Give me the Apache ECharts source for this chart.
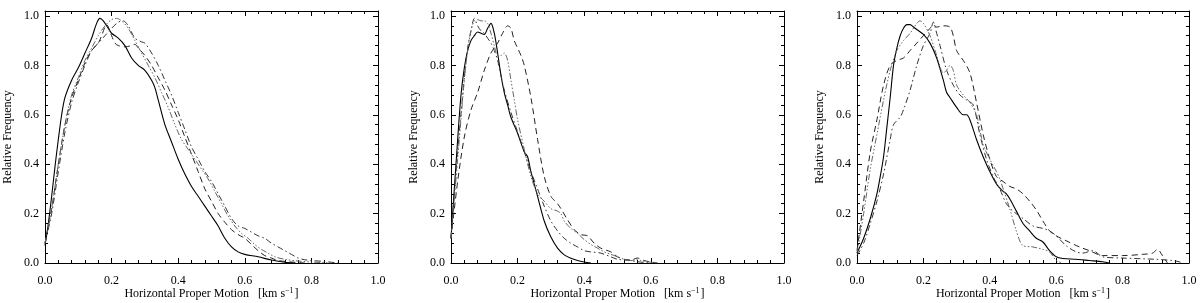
<!DOCTYPE html>
<html><head><meta charset="utf-8">
<script src="https://cdn.jsdelivr.net/npm/echarts@6/dist/echarts.min.js"></script>
<style>html,body{margin:0;padding:0;background:#fff}#c{width:1200px;height:303px}</style>
</head><body><div id="c"></div>
<script>
// ---- data: [horizontal proper motion (km/s), relative frequency] ----
const xTickValues = [0.0, 0.2, 0.4, 0.6, 0.8, 1.0];
const yTickValues = [0.0, 0.2, 0.4, 0.6, 0.8, 1.0];
const xTitle = 'Horizontal Proper Motion';
const yTitle = 'Relative Frequency';

const p1Solid = [[0,0.07],[0.01,0.16],[0.02,0.27],[0.03,0.39],[0.04,0.50],[0.05,0.60],[0.06,0.67],[0.08,0.74],[0.10,0.79],[0.12,0.85],[0.14,0.91],[0.155,0.97],[0.165,0.99],[0.175,0.98],[0.19,0.95],[0.20,0.93],[0.22,0.91],[0.24,0.88],[0.26,0.83],[0.28,0.80],[0.30,0.78],[0.32,0.74],[0.33,0.71],[0.34,0.66],[0.36,0.56],[0.38,0.49],[0.40,0.42],[0.42,0.36],[0.44,0.31],[0.46,0.27],[0.48,0.23],[0.50,0.19],[0.52,0.15],[0.54,0.10],[0.56,0.065],[0.58,0.045],[0.60,0.035],[0.64,0.025],[0.68,0.012],[0.72,0.003],[0.75,0]];
const p1Dash = [[0,0.08],[0.02,0.22],[0.04,0.40],[0.06,0.56],[0.08,0.67],[0.10,0.74],[0.12,0.81],[0.14,0.86],[0.16,0.89],[0.17,0.92],[0.185,0.965],[0.20,0.92],[0.21,0.89],[0.22,0.88],[0.24,0.875],[0.26,0.88],[0.27,0.885],[0.28,0.87],[0.30,0.84],[0.32,0.80],[0.34,0.75],[0.36,0.70],[0.38,0.64],[0.40,0.58],[0.42,0.51],[0.44,0.44],[0.46,0.37],[0.48,0.30],[0.50,0.25],[0.52,0.20],[0.54,0.165],[0.56,0.135],[0.58,0.115],[0.60,0.10],[0.62,0.075],[0.64,0.05],[0.66,0.03],[0.68,0.02],[0.70,0.01],[0.74,0.004],[0.78,0]];
const p1DashDot = [[0,0.08],[0.02,0.20],[0.04,0.37],[0.06,0.53],[0.08,0.65],[0.10,0.73],[0.12,0.80],[0.14,0.86],[0.16,0.89],[0.18,0.92],[0.20,0.95],[0.22,0.975],[0.235,0.98],[0.25,0.96],[0.27,0.91],[0.29,0.895],[0.30,0.89],[0.32,0.85],[0.34,0.80],[0.36,0.74],[0.38,0.68],[0.40,0.61],[0.42,0.54],[0.44,0.47],[0.46,0.42],[0.48,0.37],[0.50,0.33],[0.52,0.28],[0.54,0.23],[0.56,0.18],[0.58,0.15],[0.60,0.14],[0.62,0.125],[0.64,0.11],[0.66,0.10],[0.68,0.08],[0.70,0.065],[0.72,0.05],[0.74,0.035],[0.76,0.02],[0.78,0.013],[0.80,0.01],[0.84,0.006],[0.88,0]];
const p1DashDot3 = [[0,0.08],[0.02,0.22],[0.04,0.40],[0.06,0.56],[0.08,0.68],[0.10,0.75],[0.12,0.82],[0.14,0.87],[0.16,0.92],[0.18,0.96],[0.20,0.985],[0.215,0.99],[0.23,0.98],[0.25,0.95],[0.27,0.90],[0.29,0.85],[0.31,0.80],[0.33,0.75],[0.35,0.69],[0.37,0.63],[0.39,0.56],[0.41,0.50],[0.43,0.46],[0.45,0.42],[0.47,0.38],[0.49,0.34],[0.51,0.29],[0.53,0.24],[0.55,0.19],[0.57,0.15],[0.59,0.12],[0.61,0.10],[0.63,0.075],[0.65,0.055],[0.67,0.04],[0.69,0.025],[0.72,0.015],[0.76,0.008],[0.80,0.004],[0.86,0]];

const p2Solid = [[0,0.10],[0.01,0.30],[0.02,0.50],[0.03,0.68],[0.04,0.79],[0.05,0.86],[0.06,0.90],[0.07,0.92],[0.08,0.935],[0.09,0.93],[0.10,0.925],[0.11,0.95],[0.12,0.97],[0.13,0.93],[0.14,0.85],[0.15,0.76],[0.16,0.69],[0.17,0.64],[0.18,0.59],[0.20,0.525],[0.22,0.45],[0.23,0.43],[0.24,0.37],[0.26,0.27],[0.28,0.17],[0.30,0.105],[0.32,0.06],[0.34,0.033],[0.36,0.019],[0.38,0.01],[0.40,0.004],[0.42,0]];
const p2Dash = [[0,0.10],[0.02,0.33],[0.04,0.51],[0.06,0.62],[0.08,0.69],[0.10,0.78],[0.12,0.85],[0.14,0.89],[0.155,0.93],[0.17,0.96],[0.18,0.95],[0.19,0.90],[0.20,0.87],[0.21,0.84],[0.22,0.80],[0.24,0.67],[0.26,0.50],[0.28,0.35],[0.30,0.27],[0.32,0.24],[0.33,0.22],[0.35,0.175],[0.37,0.135],[0.39,0.115],[0.41,0.11],[0.43,0.08],[0.45,0.06],[0.48,0.045],[0.50,0.025],[0.52,0.015],[0.54,0.012],[0.56,0.02],[0.58,0.01],[0.60,0.004],[0.62,0]];
const p2DashDot = [[0,0.10],[0.02,0.45],[0.04,0.75],[0.05,0.87],[0.06,0.94],[0.07,0.99],[0.08,0.96],[0.09,0.94],[0.10,0.93],[0.11,0.91],[0.12,0.89],[0.13,0.86],[0.14,0.82],[0.15,0.76],[0.16,0.70],[0.18,0.61],[0.20,0.53],[0.22,0.45],[0.24,0.37],[0.26,0.30],[0.28,0.23],[0.30,0.17],[0.32,0.13],[0.34,0.10],[0.36,0.08],[0.38,0.065],[0.40,0.05],[0.42,0.045],[0.45,0.04],[0.48,0.025],[0.50,0.015],[0.54,0.01],[0.56,0.005],[0.60,0]];
const p2DashDot3 = [[0,0.10],[0.02,0.42],[0.04,0.74],[0.05,0.86],[0.06,0.94],[0.07,0.98],[0.08,0.985],[0.09,0.98],[0.10,0.98],[0.11,0.97],[0.12,0.93],[0.13,0.88],[0.14,0.84],[0.15,0.84],[0.16,0.85],[0.17,0.82],[0.18,0.74],[0.19,0.66],[0.20,0.58],[0.22,0.46],[0.24,0.35],[0.26,0.28],[0.28,0.25],[0.30,0.22],[0.32,0.21],[0.33,0.20],[0.34,0.17],[0.36,0.14],[0.38,0.12],[0.40,0.095],[0.42,0.075],[0.44,0.06],[0.46,0.045],[0.48,0.035],[0.50,0.025],[0.52,0.015],[0.54,0.01],[0.56,0.015],[0.57,0.01],[0.60,0.003],[0.62,0]];

const p3Solid = [[0,0.04],[0.02,0.10],[0.04,0.18],[0.06,0.28],[0.07,0.35],[0.08,0.43],[0.09,0.55],[0.10,0.67],[0.11,0.80],[0.12,0.87],[0.13,0.92],[0.14,0.95],[0.15,0.965],[0.16,0.965],[0.17,0.955],[0.18,0.945],[0.20,0.925],[0.22,0.89],[0.24,0.83],[0.26,0.74],[0.27,0.69],[0.28,0.67],[0.30,0.63],[0.32,0.60],[0.33,0.60],[0.34,0.58],[0.36,0.50],[0.38,0.43],[0.40,0.37],[0.42,0.32],[0.44,0.29],[0.45,0.28],[0.46,0.26],[0.48,0.21],[0.50,0.16],[0.52,0.13],[0.54,0.10],[0.56,0.085],[0.58,0.05],[0.60,0.025],[0.62,0.018],[0.66,0.015],[0.70,0.01],[0.74,0.005],[0.76,0]];
const p3Dash = [[0,0.05],[0.02,0.25],[0.04,0.45],[0.06,0.58],[0.08,0.72],[0.10,0.80],[0.12,0.82],[0.14,0.83],[0.16,0.86],[0.18,0.89],[0.20,0.92],[0.22,0.95],[0.23,0.965],[0.24,0.955],[0.26,0.96],[0.28,0.955],[0.29,0.92],[0.30,0.86],[0.32,0.82],[0.34,0.77],[0.36,0.65],[0.38,0.52],[0.40,0.42],[0.42,0.35],[0.44,0.33],[0.46,0.31],[0.48,0.30],[0.50,0.28],[0.52,0.25],[0.54,0.215],[0.56,0.17],[0.58,0.13],[0.60,0.11],[0.63,0.09],[0.67,0.065],[0.70,0.05],[0.74,0.03],[0.80,0.03],[0.86,0.035],[0.89,0.04],[0.905,0.055],[0.92,0.03],[0.935,0]];
const p3DashDot = [[0,0.03],[0.02,0.08],[0.04,0.16],[0.06,0.25],[0.08,0.36],[0.10,0.50],[0.11,0.56],[0.13,0.59],[0.14,0.62],[0.16,0.70],[0.18,0.80],[0.20,0.88],[0.22,0.93],[0.23,0.975],[0.24,0.93],[0.25,0.88],[0.27,0.78],[0.29,0.72],[0.31,0.68],[0.33,0.66],[0.35,0.64],[0.37,0.52],[0.39,0.42],[0.41,0.35],[0.43,0.30],[0.45,0.24],[0.47,0.21],[0.50,0.18],[0.53,0.15],[0.56,0.14],[0.58,0.13],[0.60,0.11],[0.63,0.07],[0.66,0.045],[0.68,0.04],[0.71,0.05],[0.74,0.025],[0.80,0.02],[0.90,0.015],[0.95,0.01],[0.97,0.005],[0.98,0]];
const p3DashDot3 = [[0,0.04],[0.02,0.20],[0.04,0.38],[0.06,0.52],[0.08,0.66],[0.10,0.78],[0.12,0.86],[0.14,0.90],[0.16,0.93],[0.18,0.97],[0.19,0.98],[0.20,0.97],[0.22,0.92],[0.24,0.84],[0.26,0.77],[0.27,0.78],[0.28,0.80],[0.29,0.78],[0.30,0.72],[0.32,0.68],[0.34,0.65],[0.36,0.60],[0.38,0.48],[0.40,0.42],[0.42,0.37],[0.43,0.34],[0.46,0.22],[0.48,0.13],[0.50,0.07],[0.53,0.065],[0.56,0.055],[0.58,0.045],[0.60,0.01],[0.62,0]];

const panels = [
  [p1Solid, p1Dash, p1DashDot, p1DashDot3],
  [p2Solid, p2Dash, p2DashDot, p2DashDot3],
  [p3Solid, p3Dash, p3DashDot, p3DashDot3]
];

// ---- styles ----
const lineStyles = [
  {color:'#000', width:1.1, type:'solid'},
  {color:'#222', width:1, type:[6,4]},
  {color:'#333', width:1, type:[6,3,1.5,3]},
  {color:'#666', width:1, type:[6,2,1.5,2,1.5,2,1.5,2]}
];
const FONT = '"Liberation Serif", "DejaVu Serif", serif';
const grids = [
  {left:45, top:11, width:333, height:252, outerBoundsMode:'none', containLabel:false},
  {left:451, top:11, width:333, height:252, outerBoundsMode:'none', containLabel:false},
  {left:857, top:11, width:332, height:252, outerBoundsMode:'none', containLabel:false}
];
const fmt = v => {
  const r = Math.round(v*10)/10;
  return (Math.abs(v - r) < 1e-6 && Math.round(r*10) % 2 === 0) ? r.toFixed(1) : '';
};

const xAxes = [], yAxes = [], series = [];
grids.forEach((g, i) => {
  const common = {
    type:'value', gridIndex:i, min:0, interval:0.2,
    axisLine:{show:true, onZero:false, lineStyle:{color:'#000', width:1}},
    axisTick:{show:true, inside:true, length:5, lineStyle:{color:'#000', width:1}},
    minorTick:{show:true, splitNumber:5, length:3, lineStyle:{color:'#000', width:1}},
    splitLine:{show:false}
  };
  xAxes.push(Object.assign({}, common, {
    max:1, position:'bottom',
    axisLabel:{show:true, formatter:fmt, color:'#000', fontFamily:FONT, fontSize:12, margin:12},
    name:'{t|' + xTitle + '   [km s}{s|\u22121}{t|]}',
    nameLocation:'middle', nameGap:24, nameMoveOverlap:false,
    nameTextStyle:{rich:{t:{fontFamily:FONT, fontSize:12, color:'#000'}, s:{fontFamily:FONT, fontSize:8, color:'#000', verticalAlign:'top', padding:[0,1,6,0]}}}
  }));
  xAxes.push(Object.assign({}, common, {max:1, position:'top', axisLabel:{show:false}}));
  yAxes.push(Object.assign({}, common, {
    max:1.02, position:'left',
    axisLabel:{show:true, formatter:fmt, color:'#000', fontFamily:FONT, fontSize:12, margin:6, showMaxLabel:false},
    name:yTitle, nameLocation:'middle', nameGap:31, nameRotate:90, nameMoveOverlap:false,
    nameTextStyle:{fontFamily:FONT, fontSize:12, color:'#000'}
  }));
  yAxes.push(Object.assign({}, common, {max:1.02, position:'right', axisLabel:{show:false}}));
  panels[i].forEach((d, k) => {
    series.push({
      type:'line', xAxisIndex:2*i, yAxisIndex:2*i, data:d,
      showSymbol:false, smooth:0.3, lineStyle:lineStyles[k], silent:true, animation:false
    });
  });
});

const chart = echarts.init(document.getElementById('c'), null, {renderer:'canvas'});
chart.setOption({
  animation:false, backgroundColor:'#fff',
  grid:grids, xAxis:xAxes, yAxis:yAxes, series:series
});
</script></body></html>
